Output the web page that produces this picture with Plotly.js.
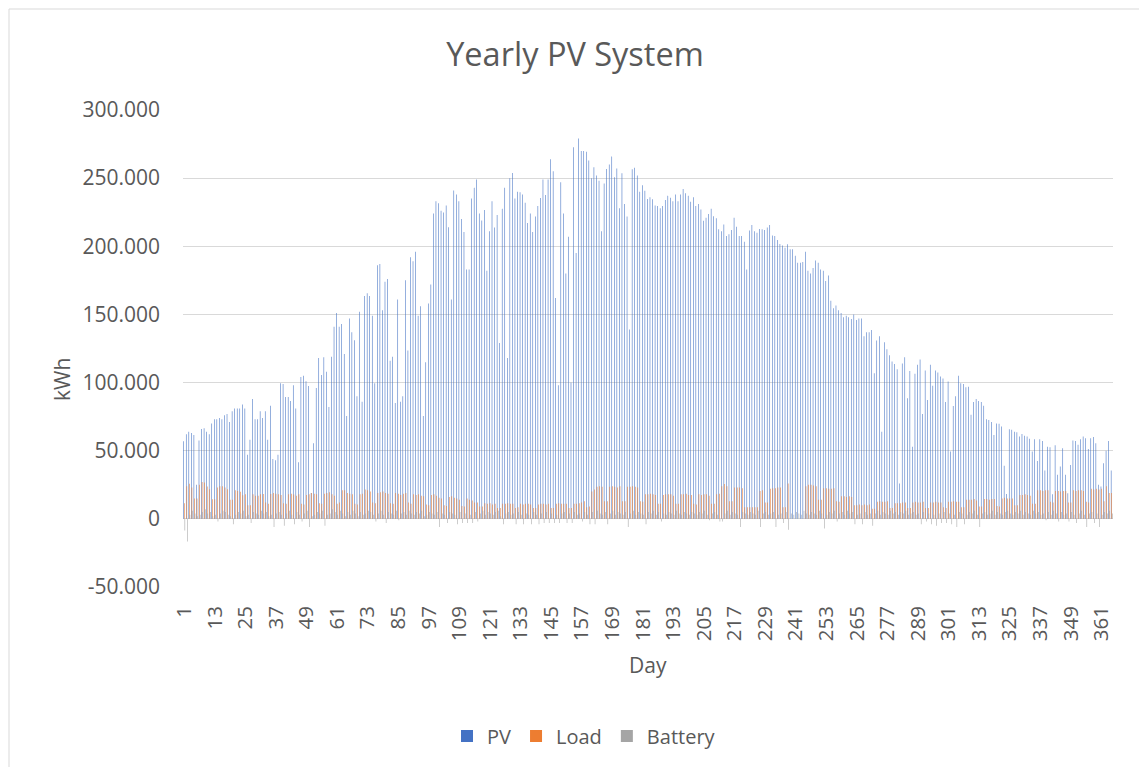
<!DOCTYPE html>
<html><head><meta charset="utf-8">
<script src="https://cdn.plot.ly/plotly-3.0.1.min.js"></script>
<style>html,body{margin:0;padding:0;background:#fff}#chart{width:1139px;height:767px}</style>
</head><body><div id="chart"></div><script>
// Daily PV production (kWh), days 1..365
const pv = [
57, 62, 64, 63, 61.6, 25, 57.5, 66, 66.5, 64,
62, 70, 73, 73, 74, 73, 76, 77, 71, 79,
81, 81, 81, 84, 81, 47, 58, 88, 73, 73,
79, 74, 79, 58, 83, 44, 43, 47, 99.5, 99,
89.5, 89.5, 86.5, 98, 81, 41.5, 104, 105, 101, 97.5,
19, 55.5, 96, 118, 105.6, 118.6, 108, 82, 119, 141,
151, 141, 143, 121, 75.5, 147, 137, 131, 90, 152,
86, 163.6, 165.5, 163.6, 149, 99.5, 186, 187, 153, 174,
176, 116, 119, 85, 161, 86, 90, 175, 123.5, 192,
189, 196, 149, 156, 75.5, 115, 158, 172, 224, 233,
231.5, 226, 224.7, 230, 214, 161, 241, 238, 233, 220,
210.5, 183, 183, 235, 243, 249, 224, 219, 226.6, 182,
211, 233, 213.7, 223, 129, 227.6, 243, 118, 250, 253.8,
235, 240, 239.6, 238, 232, 217, 224, 210.5, 221.8, 229.6,
235.5, 249, 237.6, 249, 263.8, 255, 162, 98, 247, 224,
180, 207, 100, 272.6, 195, 279, 270, 270, 269.4, 263,
250, 258, 252, 248, 211, 246, 256.7, 260, 265.8, 250.6,
257, 228, 253.5, 231, 221.8, 139, 256.5, 257.7, 252, 240,
244.7, 240.8, 234.7, 236, 234.5, 230, 229.6, 228, 229.6, 234,
237, 235.7, 233, 238, 233, 238, 242, 239, 237, 232.7,
236, 229.6, 231, 227, 218.8, 221, 223.7, 227.6, 222, 220.5,
212.5, 211, 216, 207.6, 208.8, 212, 221, 214.4, 207.6, 207.6,
203.4, 183, 211.5, 215.6, 211, 210, 212.7, 212.5, 212, 213.7,
215.6, 208, 207.6, 204.6, 201.7, 200.5, 199, 201.5, 197.8, 197.8,
193, 188, 188, 188.5, 196, 182, 180, 184, 189.5, 188,
183, 182, 174.6, 178.5, 160, 154.5, 156.5, 153, 151, 148,
149, 148, 146.7, 150, 146, 147, 147, 134, 137, 137,
138.6, 106.8, 130.8, 134, 64, 129.6, 124.4, 120, 115.4, 113.7,
109.8, 26, 114, 118.6, 88.5, 108.5, 53, 106.4, 113, 117,
77, 108.8, 87.3, 113, 97.6, 108.8, 107.3, 104.4, 103, 85.8,
100.7, 49.4, 82.9, 90, 105, 99.5, 99, 96.6, 97, 76.3,
85.8, 88, 86.5, 85.8, 83, 73, 72.6, 71, 61.6, 70,
69.7, 67.7, 38.9, 18.3, 65.8, 65.3, 64, 63.6, 60.4, 62.3,
61, 60.4, 58.7, 49.4, 58.4, 42.5, 58.4, 57.2, 35.5, 53,
52.6, 18, 54, 32.3, 38.4, 51.8, 32.3, 18.8, 39.6, 57.5,
57.2, 54.3, 58.4, 60.4, 59.2, 51.3, 59.2, 60, 55.5, 25,
23.7, 40.8, 50, 57.2, 35.5
];
// Daily load (kWh)
const load = [
11.5, 24, 25.7, 23, 15, 15,
25, 27, 26.6, 23.7, 21.8, 14.4, 14.4,
23, 24, 24, 23, 21.8, 14, 14,
21, 20.5, 19.8, 17.4, 18, 10, 10,
18, 17, 17, 18, 18.3, 12, 11,
18.3, 19, 18.5, 18, 17.5, 11.5, 11,
18, 18.5, 17.8, 17, 18, 11, 10.5,
17.5, 18, 19, 18.5, 18, 11.5, 11,
18.5, 19, 19.5, 18, 17, 11, 12,
21, 21, 19, 18.5, 18, 11, 10.5,
18, 18.5, 21.5, 21, 20, 12, 11.5,
19, 19.5, 20, 19, 18.5, 11.5, 11,
19, 18.5, 17.5, 18.5, 19, 12, 11,
18, 17.5, 18, 17, 16.5, 10.5, 10,
17.5, 18, 17, 15.5, 15, 10, 9.5,
16, 16.5, 15.5, 15, 14, 9.5, 9,
15, 14, 13.5, 12, 12, 9, 9,
11.5, 11, 11.5, 10.5, 11, 8, 8,
11, 11, 11.5, 11, 11, 8, 8.5,
11, 10.5, 11, 11, 10.5, 8, 8,
10.5, 11, 11, 10.5, 11, 8, 8,
11, 11.5, 11, 11, 11, 8, 8,
11, 11, 11.5, 12, 13, 8.5, 9,
20, 21.5, 23.5, 24, 23.5, 13, 13,
23.5, 24, 23.5, 23, 24, 13, 13,
23.5, 23.5, 24, 23.5, 23, 13, 12.5,
18, 18, 18.5, 18, 17.5, 11, 11,
17.5, 18, 18, 18, 17, 11, 11,
18, 18, 18.5, 17.5, 17.5, 11, 10.5,
18, 17.5, 18, 18, 17, 11, 11,
18, 18.5, 24, 25.5, 24, 13, 13,
23, 23, 23, 22.5, 8.5, 8.5, 8.5,
8.5, 8.5, 8.5, 20.5, 21, 12, 12,
22, 22.5, 22.5, 23, 23, 8.5, 8.5,
26, 0, 0, 0, 0, 0, 0,
24, 25, 25, 24.5, 24, 14, 14,
22.5, 22.5, 22, 22, 22.5, 13, 12.5,
16.5, 16.5, 16, 16.5, 16, 10, 10,
10.5, 10, 10.5, 10, 10.5, 7.5, 7.5,
12.5, 13, 12.5, 12.5, 13, 8, 8,
11.5, 11.5, 11.5, 12, 12, 8, 8,
12, 12.5, 12, 12, 12.5, 8, 8,
12, 12, 12.5, 12, 12, 8.5, 8,
12.5, 12.5, 13, 12.5, 12.5, 8.5, 8.5,
14, 14, 14, 14.5, 13.5, 9, 9,
14.5, 14.5, 14, 14.5, 14.5, 9.5, 9,
15, 15.5, 15, 15, 15, 10, 10,
17.5, 17.5, 18, 17.5, 17, 11, 11,
21, 21, 20.5, 21, 21, 12.5, 12,
20.5, 20.5, 20, 20.5, 20.5, 12, 12,
21, 20.5, 21, 21, 20.5, 12.5, 12,
22, 21.5, 22, 21.5, 22, 13, 24,
19, 19
];
// Daily battery energy (kWh), negative = discharge
const battery = [
-8.5, -16.6, 3, 6, 4, 2, 3, 5, 7, 4,
5, 2, 3, -2, 4, 6, 5, 3, 2, -4,
3, 5, 4, 6, 2, 3, -3, 5, 4, 3,
6, 4, 5, 2, 3, -6, 4, 5, 3, -5,
4, 6, 3, -4, 5, 3, -2, 4, 6, -6,
2, 3, 5, 4, 6, -5, 3, 4, 7, 5,
3, 6, 4, 2, 5, 3, 6, 4, 2, 5,
3, 4, 6, 5, 3, -2, 4, 6, 3, -3,
5, 4, 3, 6, -1, 4, 5, 3, 6, 4,
3, 5, 4, 6, 2, 3, 5, 4, 3, 5,
-6, 4, 3, -3, 5, 4, 3, -4, 5, -3,
4, -3, 3, -3, 5, -2, 4, 6, 3, 5,
4, 3, 5, 6, 2, -4, 4, 5, 3, 4,
-4, 5, 3, -4, 4, 3, -4, 5, 3, -4,
4, -3, 5, -3, 4, -3, 3, -3, 4, 5,
-3, 4, -3, 5, 3, 4, -2, 5, 3, -4,
5, -4, 6, 4, 3, 5, -4, 4, 6, 3,
5, 4, 3, 5, -6, 4, 6, 3, 5, 4,
3, -4, 5, 4, 6, 3, 5, -2, 4, 3,
5, 4, 3, 6, 4, 3, 5, 4, 3, 5,
4, 3, 5, 4, 6, 3, -1, 4, 5, 3,
-2, -2, 4, 6, 3, 5, 4, 3, -6, 5,
4, 3, 5, 4, 3, 6, -6, 4, 5, 3,
4, 5, -6, 3, 4, -3, 5, -8, 4, 3,
5, 4, 3, 6, 4, 3, 5, 4, 3, 6,
4, -7, 3, 5, 4, 6, -2, 4, 5, 3,
6, 4, 5, -4, 3, 4, -4, 5, 3, 4,
-5, 4, 6, 3, 5, 4, 3, 6, 4, 5,
3, 5, 4, 6, 3, 4, 5, 3, 4, -4,
5, -2, 4, -4, 3, -5, 4, -3, 5, -3,
4, -4, 3, -6, 5, 4, -4, 3, 5, 4,
6, 3, -6, 4, 5, 3, 4, 6, 3, 5,
4, 3, 5, 6, 4, 3, 5, 4, 6, 3,
5, 4, 3, 6, 4, 5, 3, 4, -1, 5,
3, 6, 4, -2, 5, 3, 4, -2, 5, 3,
-3, 4, 6, 3, -6, 4, 5, -3, 4, -6,
3, 5, 4, 6, 4
];
const days = pv.map((_, i) => i + 1);
const xTickVals = [1, 13, 25, 37, 49, 61, 73, 85, 97, 109, 121, 133, 145, 157, 169, 181, 193, 205, 217, 229, 241, 253, 265, 277, 289, 301, 313, 325, 337, 349, 361];
const yTickVals = [-50, 0, 50, 100, 150, 200, 250, 300];
const yTickText = ['-50.000', '0', '50.000', '100.000', '150.000', '200.000', '250.000', '300.000'];

const textColor = '#595959';
const fontFam = 'Open Sans, Noto Sans, sans-serif';
const L = 183, R = 1113, T = 110, B = 587;
const pw = R - L, ph = B - T;
const px = v => (v - L) / pw;
const py = v => (B - v) / ph;

const traces = [
  {type: 'bar', name: 'PV', x: days, y: pv, marker: {color: '#4472C4', line: {width: 0}}},
  {type: 'bar', name: 'Load', x: days, y: load, marker: {color: '#ED7D31', line: {width: 0}}},
  {type: 'bar', name: 'Battery', x: days, y: battery, marker: {color: '#A5A5A5', line: {width: 0}}}
];

const layout = {
  width: 1139, height: 767,
  margin: {l: L, r: 1139 - R, t: T, b: 767 - B, pad: 0},
  paper_bgcolor: '#ffffff', plot_bgcolor: '#ffffff',
  font: {family: fontFam, color: textColor, size: 20},
  barmode: 'group', bargap: 0.33, bargroupgap: 0,
  title: {text: 'Yearly PV System', x: 575 / 1139, xanchor: 'center', xref: 'container',
          y: 1 - 55 / 767, yanchor: 'middle', yref: 'container',
          font: {family: fontFam, size: 32.5, color: textColor}},
  xaxis: {
    range: [0.5, 365.5], tickmode: 'array', tickvals: xTickVals,
    ticktext: xTickVals.map(String), tickangle: -90,
    tickfont: {size: 20.5, color: textColor}, showgrid: false, zeroline: false,
    showline: false, ticks: '', ticklabelstandoff: 14, automargin: false
  },
  yaxis: {
    range: [-50, 300], tickmode: 'array', tickvals: yTickVals, ticktext: yTickText,
    tickfont: {size: 21, color: textColor}, showgrid: true, gridcolor: '#D9D9D9', gridwidth: 1,
    zeroline: true, zerolinecolor: '#D9D9D9', zerolinewidth: 1,
    showline: false, ticks: '', ticklabelstandoff: 22, automargin: false
  },
  showlegend: true,
  legend: {orientation: 'h', x: px(584), xanchor: 'center', y: py(736), yanchor: 'middle',
           font: {size: 20, color: textColor}, traceorder: 'normal', bgcolor: 'rgba(0,0,0,0)'},
  annotations: [
    {text: 'kWh', xref: 'paper', yref: 'paper', x: px(62), y: py(380), textangle: -90,
     showarrow: false, xanchor: 'center', yanchor: 'middle', font: {size: 21, color: textColor}},
    {text: 'Day', xref: 'paper', yref: 'paper', x: px(648), y: py(665),
     showarrow: false, xanchor: 'center', yanchor: 'middle', font: {size: 21, color: textColor}}
  ],
  shapes: [
    {type: 'rect', xref: 'paper', yref: 'paper', x0: px(9), x1: px(1145), y0: py(775), y1: py(9),
     line: {color: '#D9D9D9', width: 1}, fillcolor: 'rgba(0,0,0,0)', layer: 'below'}
  ]
};

Plotly.newPlot('chart', traces, layout, {displayModeBar: false, staticPlot: true});
</script></body></html>
